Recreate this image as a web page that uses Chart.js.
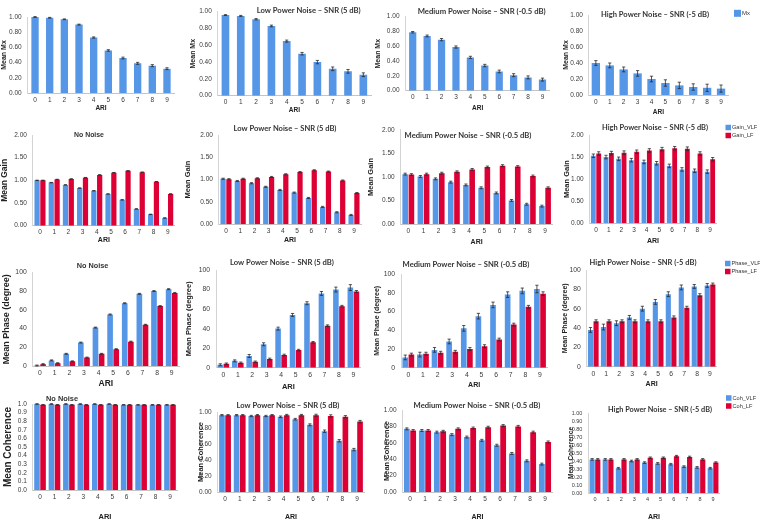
<!DOCTYPE html>
<html><head><meta charset="utf-8">
<script src="https://cdn.jsdelivr.net/npm/chart.js@4.4.1/dist/chart.umd.min.js"></script>
<style>
html,body{margin:0;padding:0;background:#fff;}
body{width:760px;height:528px;overflow:hidden;position:relative;}
canvas{position:absolute;}
</style></head><body>
<script>
// ---------- DATA ----------
const ari = ['0','1','2','3','4','5','6','7','8','9'];

const mxNone    = [1.00,0.99,0.97,0.90,0.73,0.56,0.46,0.39,0.36,0.32];
const mxNoneErr = [0.005,0.005,0.005,0.006,0.008,0.010,0.012,0.013,0.013,0.012];
const mxLow     = [0.96,0.95,0.91,0.83,0.65,0.50,0.40,0.32,0.29,0.25];
const mxLowErr  = [0.005,0.006,0.008,0.010,0.012,0.015,0.020,0.022,0.022,0.022];
const mxMed     = [0.79,0.74,0.69,0.59,0.45,0.34,0.26,0.21,0.18,0.15];
const mxMedErr  = [0.010,0.012,0.015,0.015,0.015,0.016,0.018,0.020,0.020,0.020];
const mxHigh    = [0.40,0.37,0.32,0.27,0.20,0.15,0.12,0.10,0.09,0.08];
const mxHighErr = [0.030,0.030,0.030,0.035,0.035,0.040,0.040,0.040,0.045,0.045];

const gainNoneVLF = [1.00,0.95,0.90,0.83,0.77,0.70,0.57,0.37,0.25,0.17];
const gainNoneLF  = [1.00,1.02,1.03,1.06,1.12,1.17,1.21,1.18,0.97,0.70];
const gainNoneErr = [0.004,0.004,0.004,0.004,0.004,0.004,0.004,0.004,0.004,0.004];
const gainLowVLF  = [1.02,0.97,0.92,0.84,0.77,0.71,0.59,0.39,0.27,0.21];
const gainLowLF   = [1.01,1.02,1.03,1.06,1.12,1.17,1.21,1.18,0.98,0.70];
const gainLowErr  = [0.012,0.012,0.012,0.012,0.012,0.012,0.012,0.012,0.012,0.012];
const gainMedVLF  = [1.06,1.01,0.96,0.89,0.83,0.77,0.66,0.50,0.42,0.38];
const gainMedLF   = [1.05,1.06,1.08,1.11,1.16,1.21,1.24,1.22,1.02,0.77];
const gainMedErr  = [0.02,0.02,0.02,0.02,0.02,0.02,0.02,0.02,0.02,0.02];
const gainHighVLF = [1.53,1.50,1.46,1.43,1.39,1.36,1.30,1.22,1.19,1.17];
const gainHighLF  = [1.58,1.59,1.60,1.62,1.65,1.68,1.70,1.69,1.58,1.45];
const gainHighErr = [0.04,0.04,0.04,0.04,0.04,0.04,0.04,0.04,0.04,0.04];

const phaseNoneVLF = [0.5,6,13,25,41,55,67,77,80,82];
const phaseNoneLF  = [2,3,5,9,13,18,26,44,64,78];
const phaseNoneErr = [0.5,0.5,0.5,0.5,0.5,0.5,0.5,0.5,0.5,0.5];
const phaseLowVLF  = [3,7,12,24,40,54,66,76,80,82];
const phaseLowLF   = [4,5,6,9,13,18,26,43,63,78];
const phaseLowVErr = [1,1,1.5,1.5,1.5,1.5,1.5,2,2.5,3];
const phaseLowLErr = [0.8,0.8,0.8,0.8,0.8,0.8,0.8,0.8,0.8,1];
const phaseMedVLF  = [11,14,19,28,42,55,67,78,82,84];
const phaseMedLF   = [14,15,16,17,20,23,30,46,65,79];
const phaseMedVErr = [2.5,2.5,2.5,2.5,3,3,3,3,3,4];
const phaseMedLErr = [1.5,1.5,1.5,1.5,1.5,1.5,1.5,1.5,1.5,2];
const phaseHighVLF = [38,41,45,51,60,67,75,82,83,84];
const phaseHighLF  = [47,47,47,47,47,47,51,61,74,85];
const phaseHighVErr= [2.5,3,2.5,2,2.5,2.5,2.5,2.5,2,2];
const phaseHighLErr= [1.5,1.5,1.5,1.5,1.5,1.5,1.5,1.5,1.5,1.5];

const cohNoneVLF = [1.00,1.00,1.00,1.00,1.00,1.00,0.99,0.99,0.99,0.99];
const cohNoneLF  = [0.99,0.99,0.99,0.99,0.99,0.99,0.99,0.99,0.99,0.99];
const cohNoneErr = [0.003,0.003,0.003,0.003,0.003,0.003,0.003,0.003,0.003,0.003];
const cohLowVLF  = [0.96,0.96,0.95,0.95,0.94,0.91,0.84,0.76,0.64,0.53];
const cohLowLF   = [0.96,0.96,0.96,0.96,0.96,0.96,0.96,0.95,0.94,0.88];
const cohLowErr  = [0.008,0.008,0.008,0.008,0.01,0.01,0.012,0.015,0.015,0.015];
const cohMedVLF  = [0.77,0.75,0.73,0.70,0.67,0.63,0.57,0.47,0.38,0.34];
const cohMedLF   = [0.75,0.75,0.74,0.77,0.78,0.79,0.81,0.80,0.73,0.61];
const cohMedErr  = [0.012,0.012,0.012,0.012,0.012,0.012,0.012,0.012,0.012,0.012];
const cohHighVLF = [0.42,0.42,0.31,0.40,0.38,0.37,0.36,0.33,0.32,0.31];
const cohHighLF  = [0.42,0.42,0.42,0.42,0.44,0.44,0.46,0.45,0.42,0.38];
const cohHighErr = [0.01,0.01,0.01,0.01,0.01,0.01,0.01,0.01,0.01,0.01];

const titleNone = 'No Noise';
const titleLow  = 'Low Power Noise \u2013 SNR (5 dB)';
const titleMed  = 'Medium Power Noise \u2013 SNR (-0.5 dB)';
const titleHigh = 'High Power Noise \u2013 SNR (-5 dB)';

// ---------- STYLE ----------
const BLUE = '#5596e6', RED = '#dc0035';
const AX = 'Liberation Sans, Arial, sans-serif';
const TT = 'Lato, Open Sans, sans-serif';

function one(d, e){ return [{label:'Mx', data:d, err:e, color:BLUE}]; }
function two(n1,n2,v,l,ev,el){ return [{label:n1,data:v,err:ev,color:BLUE},{label:n2,data:l,err:el,color:RED}]; }

const panels = [
 // row 1
 {s:one(mxNone,mxNoneErr), max:1, step:0.2, dec:2, yt:'Mean Mx', yts:7, tk:6.5, as:6.5, top:0,
  tx:4, L:27.7, R:174.3, T:17, B:93, ariY:108, cat:1, bar:0.5, title:null},
 {s:one(mxLow,mxLowErr), max:1, step:0.2, dec:2, yt:'Mean Mx', yts:7, tk:6.5, as:6.5, top:0,
  tx:193, L:217.8, R:371, T:11.7, B:95.7, ariY:110, cat:1, bar:0.5,
  title:{text:titleLow, cx:308.7, cy:10.7, w:104, f:TT}},
 {s:one(mxMed,mxMedErr), max:1, step:0.2, dec:2, yt:'Mean Mx', yts:7, tk:6.5, as:6.5, top:0,
  tx:378, L:405.5, R:549.7, T:16.7, B:90.7, ariY:108.3, cat:1, bar:0.5,
  title:{text:titleMed, cx:481.7, cy:11.7, w:128, f:TT}},
 {s:one(mxHigh,mxHighErr), max:1, step:0.2, dec:2, yt:'Mean Mx', yts:7, tk:6.5, as:6.5, top:0,
  tx:566, L:588.9, R:728, T:15, B:95, ariY:111.7, cat:1, bar:0.6,
  title:{text:titleHigh, cx:655, cy:15, w:108, f:TT},
  legend:{x:734, y:13.3, dy:8, box:7, fs:6}},
 // row 2
 {s:two('Gain_VLF','Gain_LF',gainNoneVLF,gainNoneLF,gainNoneErr,gainNoneErr), max:2, step:0.5, dec:2, yt:'Mean Gain', yts:8.5, tk:6.5, as:7, top:120,
  tx:5.5, L:32.9, R:174.8, T:135, B:225.7, ariY:240, cat:0.82, bar:0.9,
  title:{text:titleNone, cx:89, cy:135, w:30, f:AX}},
 {s:two('Gain_VLF','Gain_LF',gainLowVLF,gainLowLF,gainLowErr,gainLowErr), max:2, step:0.5, dec:2, yt:'Mean Gain', yts:7.5, tk:6.5, as:7, top:120,
  tx:187, L:218.9, R:361.1, T:135, B:224.3, ariY:240, cat:0.82, bar:0.9,
  title:{text:titleLow, cx:285, cy:129, w:103, f:TT}},
 {s:two('Gain_VLF','Gain_LF',gainMedVLF,gainMedLF,gainMedErr,gainMedErr), max:2, step:0.5, dec:2, yt:'Mean Gain', yts:7.5, tk:6.5, as:7, top:120,
  tx:370, L:400.7, R:552.6, T:128.9, B:224, ariY:241.7, cat:0.82, bar:0.9,
  title:{text:titleMed, cx:468, cy:135.7, w:127, f:TT}},
 {s:two('Gain_VLF','Gain_LF',gainHighVLF,gainHighLF,gainHighErr,gainHighErr), max:2, step:0.5, dec:2, yt:'Mean Gain', yts:7.5, tk:6.5, as:7, top:120,
  tx:566, L:589.7, R:716.3, T:135, B:223.3, ariY:240.7, cat:0.85, bar:0.9,
  title:{text:titleHigh, cx:655, cy:127.7, w:106, f:TT},
  legend:{x:725.5, y:127.5, dy:8, box:5.5, fs:5.6}},
 // row 3
 {s:two('Phase_VLF','Phase_LF',phaseNoneVLF,phaseNoneLF,phaseNoneErr,phaseNoneErr), max:100, step:20, dec:0, yt:'Mean Phase (degree)', yts:9, tk:6.8, as:8.5, top:254,
  tx:6, L:32.7, R:179, T:272.3, B:366, ariY:384, cat:0.84, bar:0.92,
  title:{text:titleNone, cx:92.5, cy:266, w:31.7, f:AX}},
 {s:two('Phase_VLF','Phase_LF',phaseLowVLF,phaseLowLF,phaseLowVErr,phaseLowLErr), max:100, step:20, dec:0, yt:'Mean Phase (degree)', yts:7.5, tk:6.8, as:7.5, top:254,
  tx:188, L:216.1, R:360.6, T:270, B:367.7, ariY:386, cat:0.84, bar:0.92,
  title:{text:titleLow, cx:282, cy:262.5, w:104, f:TT}},
 {s:two('Phase_VLF','Phase_LF',phaseMedVLF,phaseMedLF,phaseMedVErr,phaseMedLErr), max:100, step:20, dec:0, yt:'Mean Phase (degree)', yts:7, tk:6.8, as:7, top:254,
  tx:377, L:401, R:547.3, T:274, B:367.7, ariY:385, cat:0.84, bar:0.92,
  title:{text:titleMed, cx:466, cy:265, w:127, f:TT}},
 {s:two('Phase_VLF','Phase_LF',phaseHighVLF,phaseHighLF,phaseHighVErr,phaseHighLErr), max:100, step:20, dec:0, yt:'Mean Phase (degree)', yts:7, tk:6.8, as:7, top:254,
  tx:565, L:586.8, R:716.5, T:270, B:366.7, ariY:384, cat:0.86, bar:0.92,
  title:{text:titleHigh, cx:643, cy:263, w:107, f:TT},
  legend:{x:725, y:263.5, dy:8, box:5.5, fs:5.6}},
 // row 4
 {s:two('Coh_VLF','Coh_LF',cohNoneVLF,cohNoneLF,cohNoneErr,cohNoneErr), max:1, step:0.1, dec:1, yt:'Mean Coherence', yts:10, tk:6.5, as:7.5, top:390,
  tx:8, L:32.8, R:177.2, T:404, B:490, ariY:516, cat:0.84, bar:0.92,
  title:{text:titleNone, cx:62, cy:399, w:32, f:AX}},
 {s:two('Coh_VLF','Coh_LF',cohLowVLF,cohLowLF,cohLowErr,cohLowErr), max:1, step:0.2, dec:2, yt:'Mean Coherence', yts:7.5, tk:6.5, as:7, top:390,
  tx:200, L:217.7, R:364.3, T:412, B:492, ariY:517, cat:0.84, bar:0.92,
  title:{text:titleLow, cx:288, cy:406, w:103, f:TT}},
 {s:two('Coh_VLF','Coh_LF',cohMedVLF,cohMedLF,cohMedErr,cohMedErr), max:1, step:0.2, dec:2, yt:'Mean Coherence', yts:7.5, tk:6.5, as:7, top:390,
  tx:386, L:402.5, R:552.5, T:410, B:492, ariY:517, cat:0.84, bar:0.92,
  title:{text:titleMed, cx:477, cy:406, w:127, f:TT}},
 {s:two('Coh_VLF','Coh_LF',cohHighVLF,cohHighLF,cohHighErr,cohHighErr), max:1, step:0.1, dec:2, yt:'Mean Coherence', yts:6.5, tk:5.5, as:7, top:390,
  tx:571, L:588.4, R:719.6, T:413, B:493, ariY:517, cat:0.86, bar:0.92,
  title:{text:titleHigh, cx:660, cy:410, w:104, f:TT},
  legend:{x:726, y:398, dy:8, box:5.5, fs:5.6}}
];

// ---------- PLUGINS ----------
const errBars = {id:'errBars', afterDatasetsDraw(chart){
  const ctx = chart.ctx, ys = chart.scales.y;
  chart.data.datasets.forEach((ds,i)=>{
    if(!ds.err) return;
    chart.getDatasetMeta(i).data.forEach((el,j)=>{
      const v = ds.data[j], e = ds.err[j];
      const y1 = ys.getPixelForValue(v+e), y2 = ys.getPixelForValue(Math.max(0,v-e));
      const x = el.x;
      ctx.save(); ctx.strokeStyle='#2a2a2a'; ctx.lineWidth=0.8;
      ctx.beginPath();
      ctx.moveTo(x,y1); ctx.lineTo(x,y2);
      ctx.moveTo(x-1.6,y1); ctx.lineTo(x+1.6,y1);
      ctx.moveTo(x-1.6,y2); ctx.lineTo(x+1.6,y2);
      ctx.stroke(); ctx.restore();
    });
  });
}};
const panelText = {id:'panelText', afterDraw(chart, args, o){
  const ctx = chart.ctx;
  if(o.title){
    const t = o.title;
    ctx.save();
    ctx.font = 'bold 10px ' + t.f;
    const w = ctx.measureText(t.text).width;
    const size = 10 * t.w / w;
    ctx.font = 'bold ' + size.toFixed(2) + 'px ' + t.f;
    ctx.fillStyle = '#333';
    ctx.textAlign = 'center'; ctx.textBaseline = 'middle';
    ctx.fillText(t.text, t.cx - o.ox, t.cy - o.oy);
    ctx.restore();
  }
  if(o.legend){
    const lg = o.legend;
    ctx.save();
    ctx.font = lg.fs + 'px ' + AX;
    ctx.textBaseline = 'middle'; ctx.textAlign = 'left';
    chart.data.datasets.forEach((ds,i)=>{
      const y = lg.y + i*lg.dy - o.oy, x = lg.x - o.ox;
      ctx.fillStyle = ds.backgroundColor;
      ctx.fillRect(x, y-lg.box/2, lg.box, lg.box);
      ctx.fillStyle = '#333';
      ctx.fillText(ds.label, x + lg.box + 1, y);
    });
    ctx.restore();
  }
}};

// ---------- BUILD ----------
panels.forEach(p=>{
  const left = Math.round(p.tx - p.yts*1.2/2);
  const top = p.top;
  const right = p.legend ? 760 : Math.round(p.R + 6);
  const bottom = Math.round(p.ariY + p.as*1.2/2);
  const W = right-left, H = bottom-top;
  const cv = document.createElement('canvas');
  cv.width = W; cv.height = H;
  cv.style.left = left+'px'; cv.style.top = top+'px';
  cv.style.width = W+'px'; cv.style.height = H+'px';
  document.body.appendChild(cv);
  const yW = p.L - left, xH = bottom - p.B;
  new Chart(cv, {
    type:'bar',
    data:{ labels: ari, datasets: p.s.map(s=>({label:s.label, data:s.data, err:s.err,
      backgroundColor:s.color, borderWidth:0, barPercentage:p.bar, categoryPercentage:p.cat})) },
    options:{
      responsive:false, animation:false, devicePixelRatio:1,
      layout:{padding:{top:p.T-top, right:right-p.R, left:0, bottom:0}},
      plugins:{legend:{display:false}, tooltip:{enabled:false}, title:{display:false},
        panelText:{title:p.title, legend:p.legend||null, ox:left, oy:top}},
      scales:{
        x:{ grid:{display:false, drawTicks:false}, border:{display:true, color:'#c4c4c4', width:1},
            ticks:{autoSkip:false, maxRotation:0, padding:3, color:'#3a3a3a', font:{family:AX, size:p.tk}},
            title:{display:true, text:'ARI', color:'#222', padding:0, font:{family:AX, size:p.as, weight:'bold'}},
            afterFit(s){ s.height = xH; } },
        y:{ min:0, max:p.max, grid:{display:false, drawTicks:false}, border:{display:true, color:'#d4d4d4', width:1},
            ticks:{stepSize:p.step, autoSkip:false, padding:6, color:'#3a3a3a', font:{family:AX, size:p.tk},
                   callback:v=>Number(v).toFixed(p.dec)},
            title:{display:true, text:p.yt, color:'#222', padding:0, font:{family:AX, size:p.yts, weight:'bold'}},
            afterFit(s){ s.width = yW; } }
      }
    },
    plugins:[errBars, panelText]
  });
});
</script>
</body></html>
